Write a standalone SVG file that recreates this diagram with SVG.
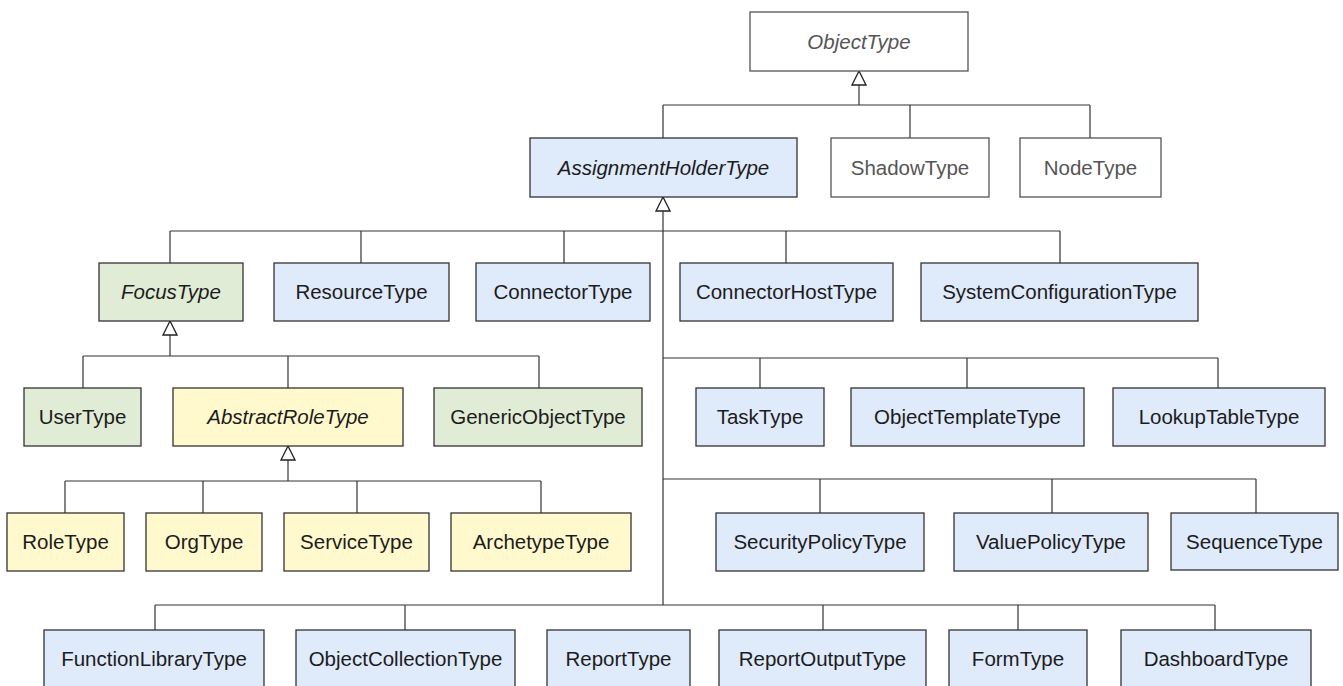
<svg xmlns="http://www.w3.org/2000/svg" width="1343" height="686" viewBox="0 0 1343 686">
<defs>
<style>
.box{stroke:#333;stroke-width:1.3}
.blue{fill:#dfeafb}
.green{fill:#e1ecd6}
.yellow{fill:#fff9cd}
.white{fill:#ffffff;stroke:#555}
.t{font-family:"Liberation Sans",Arial,sans-serif;font-size:20.5px;fill:#1c1c1c;text-anchor:middle}
.i{font-style:italic}
.g{fill:#555}
.c{fill:none;stroke:#333;stroke-width:1.2}
.a{marker-start:url(#tri)}
</style>
<marker id="tri" viewBox="0 0 16 16" refX="15" refY="8" markerWidth="16" markerHeight="16" markerUnits="userSpaceOnUse" orient="auto-start-reverse">
<path d="M1,1 L15,8 L1,15 Z" fill="#fff" stroke="#222" stroke-width="1.3"/>
</marker>
</defs>
<rect width="1343" height="686" fill="#fff"/>

<g id="connectors">
<path class="c a" d="M859,71 V105"/>
<path class="c" d="M663,105 H1090 M663,105 V138 M910,105 V138 M1090,105 V138"/>
<path class="c a" d="M663,197 V605"/>
<path class="c" d="M170,231 H1060 M170,231 V263 M361,231 V263 M564,231 V263 M786,231 V263 M1060,231 V263"/>
<path class="c" d="M663,358 H1218 M760,358 V388 M967,358 V388 M1218,358 V388"/>
<path class="c" d="M663,479 H1256 M820,479 V513 M1052,479 V513 M1256,479 V513"/>
<path class="c" d="M155,605 H1215 M155,605 V630 M405,605 V630 M823,605 V630 M1018,605 V630 M1215,605 V630"/>
<path class="c a" d="M170,321 V356"/>
<path class="c" d="M83,356 H539 M83,356 V388 M288,356 V388 M539,356 V388"/>
<path class="c a" d="M288,446 V481"/>
<path class="c" d="M65,481 H541 M65,481 V513 M203,481 V513 M357,481 V513 M541,481 V513"/>
</g>

<g id="ObjectType"><rect class="box white" x="750" y="12" width="218" height="59"/><text class="t i g" x="859" y="48.5">ObjectType</text></g>
<g id="AssignmentHolderType"><rect class="box blue" x="530" y="138" width="267" height="59"/><text class="t i" x="663.5" y="174.5">AssignmentHolderType</text></g>
<g id="ShadowType"><rect class="box white" x="831" y="138" width="158" height="59"/><text class="t g" x="910" y="174.5">ShadowType</text></g>
<g id="NodeType"><rect class="box white" x="1020" y="138" width="141" height="59"/><text class="t g" x="1090.5" y="174.5">NodeType</text></g>

<g id="FocusType"><rect class="box green" x="99" y="263" width="144" height="58"/><text class="t i" x="171" y="299">FocusType</text></g>
<g id="ResourceType"><rect class="box blue" x="274" y="263" width="175" height="58"/><text class="t" x="361.5" y="299">ResourceType</text></g>
<g id="ConnectorType"><rect class="box blue" x="476" y="263" width="174" height="58"/><text class="t" x="563" y="299">ConnectorType</text></g>
<g id="ConnectorHostType"><rect class="box blue" x="680" y="263" width="213" height="58"/><text class="t" x="786.5" y="299">ConnectorHostType</text></g>
<g id="SystemConfigurationType"><rect class="box blue" x="921" y="263" width="277" height="58"/><text class="t" x="1059.5" y="299">SystemConfigurationType</text></g>

<g id="UserType"><rect class="box green" x="24" y="388" width="117" height="58"/><text class="t" x="82.5" y="424">UserType</text></g>
<g id="AbstractRoleType"><rect class="box yellow" x="173" y="388" width="230" height="58"/><text class="t i" x="288" y="424">AbstractRoleType</text></g>
<g id="GenericObjectType"><rect class="box green" x="434" y="388" width="208" height="58"/><text class="t" x="538" y="424">GenericObjectType</text></g>
<g id="TaskType"><rect class="box blue" x="696" y="388" width="128" height="58"/><text class="t" x="760" y="424">TaskType</text></g>
<g id="ObjectTemplateType"><rect class="box blue" x="851" y="388" width="233" height="58"/><text class="t" x="967.5" y="424">ObjectTemplateType</text></g>
<g id="LookupTableType"><rect class="box blue" x="1113" y="388" width="212" height="58"/><text class="t" x="1219" y="424">LookupTableType</text></g>

<g id="RoleType"><rect class="box yellow" x="7" y="513" width="117" height="58"/><text class="t" x="65.5" y="549">RoleType</text></g>
<g id="OrgType"><rect class="box yellow" x="146" y="513" width="116" height="58"/><text class="t" x="204" y="549">OrgType</text></g>
<g id="ServiceType"><rect class="box yellow" x="284" y="513" width="145" height="58"/><text class="t" x="356.5" y="549">ServiceType</text></g>
<g id="ArchetypeType"><rect class="box yellow" x="451" y="513" width="180" height="58"/><text class="t" x="541" y="549">ArchetypeType</text></g>
<g id="SecurityPolicyType"><rect class="box blue" x="716" y="513" width="208" height="58"/><text class="t" x="820" y="549">SecurityPolicyType</text></g>
<g id="ValuePolicyType"><rect class="box blue" x="954" y="513" width="194" height="58"/><text class="t" x="1051" y="549">ValuePolicyType</text></g>
<g id="SequenceType"><rect class="box blue" x="1171" y="513" width="167" height="57"/><text class="t" x="1254.5" y="549">SequenceType</text></g>

<g id="FunctionLibraryType"><rect class="box blue" x="44" y="630" width="220" height="60"/><text class="t" x="154" y="666">FunctionLibraryType</text></g>
<g id="ObjectCollectionType"><rect class="box blue" x="296" y="630" width="219" height="60"/><text class="t" x="405.5" y="666">ObjectCollectionType</text></g>
<g id="ReportType"><rect class="box blue" x="547" y="630" width="143" height="60"/><text class="t" x="618.5" y="666">ReportType</text></g>
<g id="ReportOutputType"><rect class="box blue" x="719" y="630" width="207" height="60"/><text class="t" x="822.5" y="666">ReportOutputType</text></g>
<g id="FormType"><rect class="box blue" x="949" y="630" width="138" height="60"/><text class="t" x="1018" y="666">FormType</text></g>
<g id="DashboardType"><rect class="box blue" x="1121" y="630" width="190" height="60"/><text class="t" x="1216" y="666">DashboardType</text></g>
</svg>
